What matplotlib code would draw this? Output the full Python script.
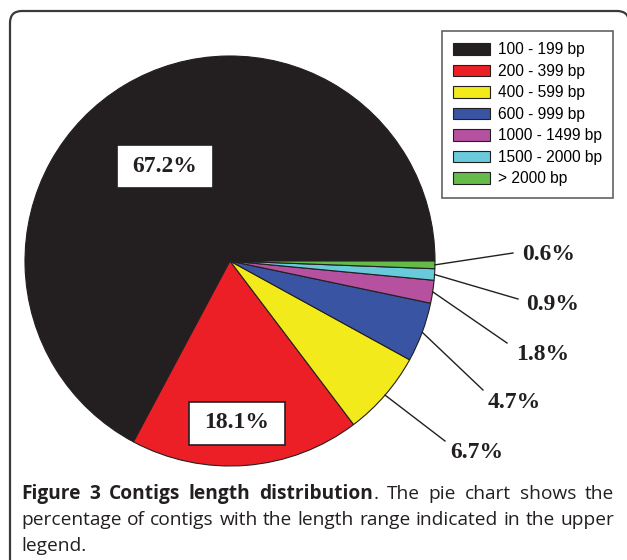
import numpy as np
import matplotlib
matplotlib.use("Agg")
import matplotlib.pyplot as plt
from matplotlib.patches import FancyBboxPatch, Rectangle

# data
ranges = ["100 - 199 bp", "200 - 399 bp", "400 - 599 bp", "600 - 999 bp",
          "1000 - 1499 bp", "1500 - 2000 bp", "> 2000 bp"]
percent = [67.2, 18.1, 6.7, 4.7, 1.8, 0.9, 0.6]
colors = ["#231f20", "#ed1f26", "#f2ea1a", "#3a54a4", "#b5519e", "#69cadb", "#64bb47"]

# label placement (pixels from top-left): inside boxes and outside callouts
inside_idx = [0, 1]
inside_pos = [(165, 166), (237, 423)]
callout_idx = [6, 5, 4, 3, 2]
callout_end = [(513, 253), (518, 299), (507, 343), (483, 390), (445, 441)]
callout_txt = [(522, 254), (526, 305), (516, 354), (488, 402), (450, 453)]

W, H = 627, 560
fig = plt.figure(figsize=(W / 100, H / 100), dpi=100)

# overlay in pixel coords for frame, labels and caption
ov = fig.add_axes([0, 0, 1, 1], zorder=3)
ov.set_xlim(0, W)
ov.set_ylim(H, 0)
ov.axis("off")
ov.patch.set_alpha(0)

bg = fig.add_axes([0, 0, 1, 1], zorder=0)
bg.set_xlim(0, W)
bg.set_ylim(H, 0)
bg.axis("off")
frame = FancyBboxPatch((10, 11), 619, 570, boxstyle="round,pad=0,rounding_size=12",
                       fc="white", ec="#3a3a3a", lw=1.6)
bg.add_patch(frame)

# pie
pa = fig.add_axes([25 / W, (H - 466) / H, 410 / W, 410 / H], zorder=1)
wedges, _ = pa.pie(percent, colors=colors, startangle=0, counterclock=True,
                   wedgeprops=dict(edgecolor="#231f20", linewidth=0.8))
pa.set_xlim(-1, 1)
pa.set_ylim(-1, 1)
pa.set_aspect("auto")

serif = dict(family="Liberation Serif", weight="bold", size=17, color="#231f20")

for i, (x, y) in zip(inside_idx, inside_pos):
    ov.add_patch(Rectangle((x - 48, y - 21.5), 96, 43, fc="white", ec="#231f20", lw=1.2))
    ov.text(x, y, f"{percent[i]}%", ha="center", va="center", **serif)

for i, (ex, ey), (tx, ty) in zip(callout_idx, callout_end, callout_txt):
    w = wedges[i]
    a = np.deg2rad((w.theta1 + w.theta2) / 2)
    disp = pa.transData.transform((np.cos(a), np.sin(a)))
    sx, sy = ov.transData.inverted().transform(disp)
    ov.plot([sx, ex], [sy, ey], color="#231f20", lw=1.0)
    ov.text(tx, ty, f"{percent[i]}%", ha="left", va="center", **serif)

# legend
leg = fig.legend(wedges, ranges, loc="upper left",
                 bbox_to_anchor=(442 / W, 1 - 31 / H), bbox_transform=fig.transFigure,
                 frameon=True, fancybox=False, borderaxespad=0,
                 prop=dict(family="Liberation Sans", size=11.2),
                 handlelength=2.36, handleheight=0.76, handletextpad=0.5,
                 labelspacing=0.42, borderpad=0.72)
leg.get_frame().set_edgecolor("#3a3a3a")
leg.get_frame().set_linewidth(1.2)
leg.set_zorder(4)

# caption, justified word by word
cap_font = dict(family="Open Sans", size=13.8, color="#231f20")
lines = [
    [[("Figure", "bold")], [("3", "bold")], [("Contigs", "bold")], [("length", "bold")],
     [("distribution", "bold"), (".", "normal")], [("The", "normal")], [("pie", "normal")],
     [("chart", "normal")], [("shows", "normal")], [("the", "normal")]],
    [[(w, "normal")] for w in "percentage of contigs with the length range indicated in the upper".split()],
    [[("legend.", "normal")]],
]
line_y = [494, 520, 546]
x0, x1 = 21, 614
r = fig.canvas.get_renderer()


def put_word(word, x, y):
    for s, wt in word:
        t = ov.text(x, y, s, ha="left", va="center", weight=wt, **cap_font)
        x += t.get_window_extent(r).width
    return x


def word_width(word):
    tot = 0
    for s, wt in word:
        t = ov.text(0, 0, s, weight=wt, **cap_font)
        tot += t.get_window_extent(r).width
        t.remove()
    return tot


for k, (words, y) in enumerate(zip(lines, line_y)):
    widths = [word_width(wd) for wd in words]
    if k < len(lines) - 1:
        gap = (x1 - x0 - sum(widths)) / (len(words) - 1)
    else:
        gap = 5
    x = x0
    for wd, wdt in zip(words, widths):
        put_word(wd, x, y)
        x += wdt + gap

fig.savefig("out.png", dpi=100)
